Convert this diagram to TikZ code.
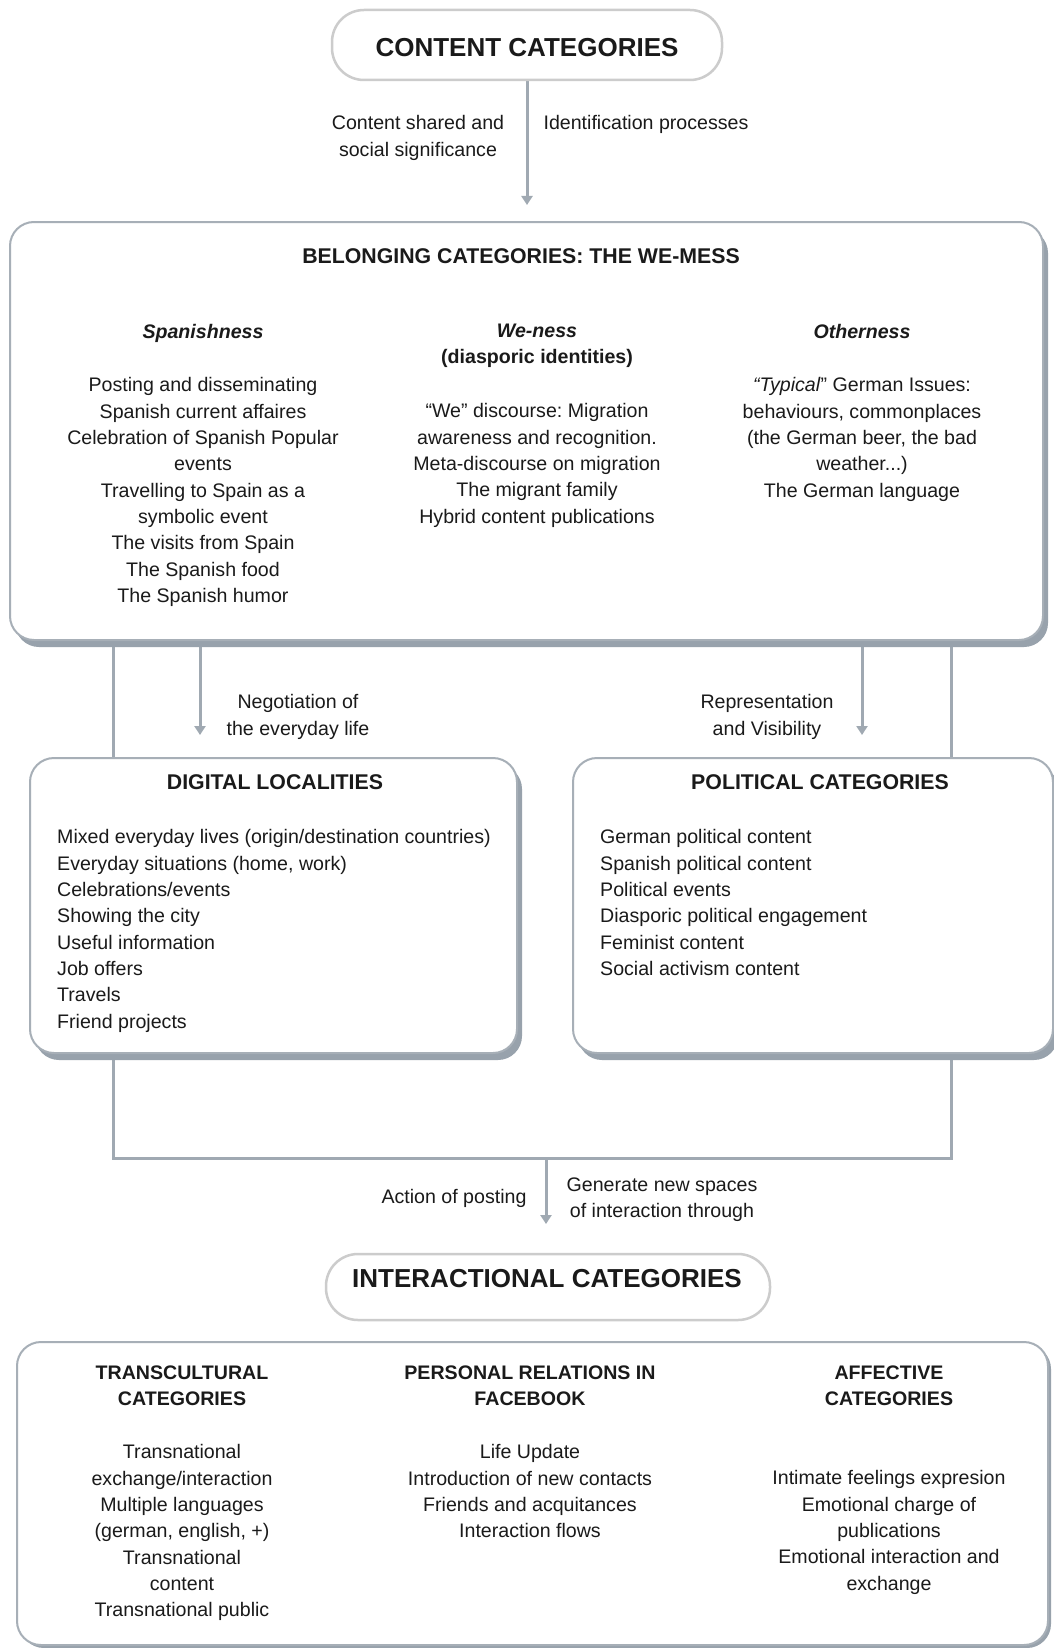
\documentclass[tikz,border=0pt]{standalone}
\usepackage{fontspec}
\setmainfont{Liberation Sans}
\usetikzlibrary{arrows.meta,shadows}
\definecolor{txt}{HTML}{1A1A1A}
\definecolor{pillline}{HTML}{CCCCCC}
\definecolor{boxline}{HTML}{A7AFB7}
\definecolor{shade}{HTML}{98A2AC}
\definecolor{conncol}{HTML}{A0A9B2}
\newcommand\bodyfont{\fontsize{19.6}{26.3}\selectfont}
\newcommand\pilltitlefont{\fontsize{26}{30}\selectfont\bfseries}
\newcommand\headfont{\fontsize{21.3}{26.3}\selectfont\bfseries}
\pgfdeclarelayer{paper}
\pgfdeclarelayer{bg}
\pgfsetlayers{paper,bg,main}
\frenchspacing

\begin{document}
\begin{tikzpicture}[x=1pt,y=-1pt,
  pill/.style={draw=pillline, line width=2.5pt, rounded corners=32pt, fill=white,
    inner sep=0pt, font=\pilltitlefont, text=txt},
  panel/.style={draw=boxline, line width=2pt, rounded corners=24pt, fill=white, inner sep=0pt,
    drop shadow={shadow xshift=5pt, shadow yshift=-7pt, fill=shade, opacity=1}},
  flatpanel/.style={draw=boxline, line width=2pt, rounded corners=24pt, fill=white, inner sep=0pt,
    drop shadow={shadow xshift=3pt, shadow yshift=-3pt, fill=shade, opacity=1}},
  txtc/.style={inner sep=0pt, align=center, font=\bodyfont, text=txt},
  txtl/.style={inner sep=0pt, align=left, font=\bodyfont, text=txt},
  conn/.style={draw=conncol, line width=3pt},
  arr/.style={conn, -{Triangle[width=11pt,length=9pt]}},
]
\begin{pgfonlayer}{paper}
\fill[white] (0,0) rectangle (1054,1648);
\end{pgfonlayer}
\useasboundingbox (0,0) rectangle (1054,1648);

% ---------- top: content categories ----------
\node[pill, minimum width=390pt, minimum height=70pt] (content) at (527,45) {};
\node[txtc, font=\pilltitlefont, anchor=base] (contenttitle) at (527,56.5) {CONTENT CATEGORIES};
\coordinate (contentend) at (527,205);
\node[txtc, anchor=north] (sharedlbl) at (418,115.5) {Content shared and\\social significance};
\node[txtc, anchor=base] (identlbl) at (646,130) {Identification processes};

% ---------- belonging categories ----------
\node[panel, minimum width=1033pt, minimum height=418pt] (belong) at (526.5,431) {};
\node[txtc, font=\headfont, anchor=base] (belongtitle) at (521,263.5) {BELONGING CATEGORIES: THE WE-MESS};

\node[txtc, anchor=base, font=\bodyfont\bfseries\itshape] (hspan) at (203,338) {Spanishness};
\node[txtc, anchor=north, font=\bodyfont\bfseries] (hwe) at (537,323.5) {\textit{We-ness}\\(diasporic identities)};
\node[txtc, anchor=base, font=\bodyfont\bfseries\itshape] (hother) at (862,338) {Otherness};

\node[txtc, anchor=north] (ispan) at (203,377.5) {Posting and disseminating\\Spanish current affaires\\Celebration of Spanish Popular\\events\\Travelling to Spain as a\\symbolic event\\The visits from Spain\\The Spanish food\\The Spanish humor};
\node[txtc, anchor=north] (iwe) at (537,403.5) {“We” discourse: Migration\\awareness and recognition.\\Meta-discourse on migration\\The migrant family\\Hybrid content publications};
\node[txtc, anchor=north] (iother) at (862,377.5) {\textit{“Typical}” German Issues:\\behaviours, commonplaces\\(the German beer, the bad\\weather...)\\The German language};

% ---------- digital localities / political categories ----------
\node[panel, minimum width=487pt, minimum height=295pt] (digital) at (273.5,905.5) {};
\node[txtc, font=\headfont, anchor=base] (digitaltitle) at (275,789) {DIGITAL LOCALITIES};
\node[txtl, anchor=north west] (idigital) at (57,829.5) {Mixed everyday lives (origin/destination countries)\\Everyday situations (home, work)\\Celebrations/events\\Showing the city\\Useful information\\Job offers\\Travels\\Friend projects};

\node[panel, minimum width=480pt, minimum height=295pt] (political) at (813,905.5) {};
\node[txtc, font=\headfont, anchor=base] (politicaltitle) at (820,789) {POLITICAL CATEGORIES};
\node[txtl, anchor=north west] (ipolitical) at (600,829.5) {German political content\\Spanish political content\\Political events\\Diasporic political engagement\\Feminist content\\Social activism content};

\coordinate (lx) at (113,0);
\coordinate (rx) at (951,0);
\coordinate (negend) at (200,735);
\coordinate (repend) at (862,735);
\node[txtc, anchor=north] (neglbl) at (298,694.5) {Negotiation of\\the everyday life};
\node[txtc, anchor=north] (replbl) at (767,694.5) {Representation\\and Visibility};

% ---------- posting ----------
\coordinate (brL) at (113,1158);
\coordinate (brR) at (951,1158);
\coordinate (brM) at (546,1158);
\coordinate (postend) at (546,1224);
\node[txtc, anchor=base] (actlbl) at (454,1203) {Action of posting};
\node[txtc, anchor=north] (genlbl) at (662,1177.5) {Generate new spaces\\of interaction through};

% ---------- interactional categories ----------
\node[pill, minimum width=444pt, minimum height=66pt] (inter) at (548,1287) {};
\node[txtc, font=\pilltitlefont, anchor=base] (intertitle) at (547,1287) {INTERACTIONAL CATEGORIES};
\node[flatpanel, minimum width=1031pt, minimum height=303pt] (interbox) at (532.5,1493.5) {};

\node[txtc, anchor=north, font=\bodyfont\bfseries] (htrans) at (182,1365.5) {TRANSCULTURAL\\CATEGORIES};
\node[txtc, anchor=north, font=\bodyfont\bfseries] (hpers) at (530,1365.5) {PERSONAL RELATIONS IN\\FACEBOOK};
\node[txtc, anchor=north, font=\bodyfont\bfseries] (haff) at (889,1365.5) {AFFECTIVE\\CATEGORIES};

\node[txtc, anchor=north] (itrans) at (182,1444.5) {Transnational\\exchange/interaction\\Multiple languages\\(german, english, +)\\Transnational\\content\\Transnational public};
\node[txtc, anchor=north] (ipers) at (530,1444.5) {Life Update\\Introduction of new contacts\\Friends and acquitances\\Interaction flows};
\node[txtc, anchor=north] (iaff) at (889,1470.5) {Intimate feelings expresion\\Emotional charge of\\publications\\Emotional interaction and\\exchange};

% ---------- connectors (behind the boxes) ----------
\begin{pgfonlayer}{bg}
\draw[arr] (content.south) -- (contentend);
\draw[conn] (belong.south -| lx) -- (digital.north -| lx);
\draw[arr] (belong.south -| negend) -- (negend);
\draw[arr] (belong.south -| repend) -- (repend);
\draw[conn] (belong.south -| rx) -- (political.north -| rx);
\draw[conn] (digital.south -| lx) -- (brL) -- (brR) -- (political.south -| rx);
\draw[arr] (brM) -- (postend);
\end{pgfonlayer}
\end{tikzpicture}
\end{document}
